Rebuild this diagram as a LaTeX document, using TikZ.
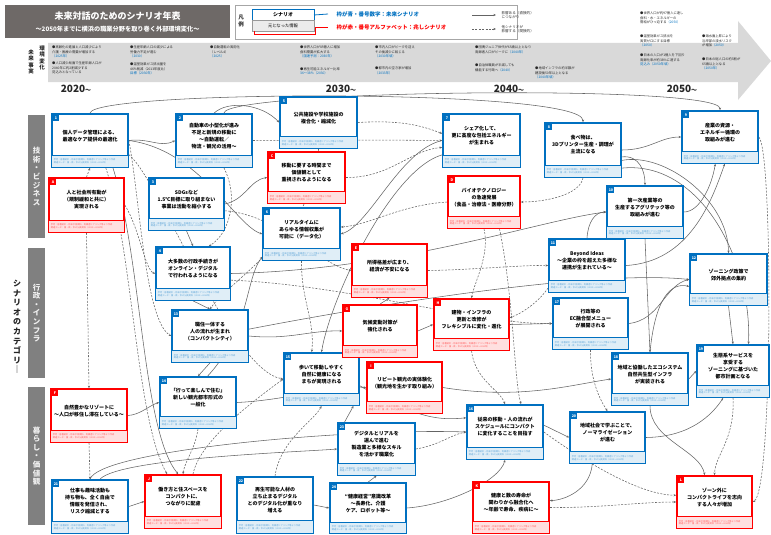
\documentclass[tikz,border=0pt]{standalone}
\usepackage{fontspec}
\setmainfont{Noto Sans CJK JP}
\usetikzlibrary{fit,calc,arrows.meta}

\definecolor{scblue}{RGB}{0,112,192}
\definecolor{scred}{RGB}{255,0,0}
\definecolor{hdgray}{RGB}{110,105,103}
\definecolor{catgray}{RGB}{128,128,128}
\definecolor{bandgray}{RGB}{217,217,217}
\definecolor{linkgray}{RGB}{100,100,100}

\pgfdeclarelayer{back}
\pgfdeclarelayer{links}
\pgfsetlayers{back,links,main}

\newcommand\fs[2]{\fontsize{#1}{#2}\selectfont}

\tikzset{
  link/.style={draw=linkgray, line width=0.55pt, -{Stealth[length=2.6pt,width=2.2pt]}},
  dlink/.style={link, dash pattern=on 2pt off 1.4pt},
  frame/.style={inner sep=0pt, fill=white, line width=1.7pt},
  tagbox/.style={inner sep=0pt, minimum width=5.5pt, minimum height=5.5pt, text=white, font=\fs{3.6}{4}\bfseries},
  boxtext/.style={align=center, font=\fs{5}{7}\bfseries, text=black},
  notetext/.style={align=left, font=\fs{2.2}{2.9}, anchor=west, inner sep=0pt},
  bullet/.style={anchor=north west, align=left, font=\fs{3.3}{4.3}, inner sep=0pt, text=black!85},
  year/.style={font=\fs{10}{10}\bfseries, text=black!85, inner sep=0pt},
  catbar/.style={fill=catgray, draw=none},
  cattext/.style={align=center, font=\fs{7.5}{8.6}\bfseries, text=white!88!gray, inner sep=0pt},
}

% scenario card: name, x1, y1, x2, y2, colour, tag, title
\newcommand\scbox[8]{%
  \node[frame, draw=#6, fit={(#2,#3) (#4,#5)}] (#1) {};
  \fill[#6!12] ($(#1.south west)+(0.9,-0.9)$) rectangle ($(#1.south east)!0.23!(#1.north east)+(-0.9,0)$);
  \draw[#6, line width=0.8pt] ($(#1.south west)!0.23!(#1.north west)$) -- ($(#1.south east)!0.23!(#1.north east)$);
  \node[tagbox, fill=#6] (#1-tag) at ($(#1.north west)+(4.8,4.8)$) {#7};
  \node[boxtext] (#1-txt) at ($(#1.north)!0.41!(#1.south)$) {#8};
  \node[notetext, text=#6!65] (#1-note) at ($(#1.south west)!0.115!(#1.north west)+(2.5,0)$)
    {参考：各種統計・将来予測資料、有識者ヒアリング等より作成\\関連データ：国・県・市の公表資料（2019〜2021年）};
}

\begin{document}
\begin{tikzpicture}[x=1pt,y=-1pt]
\useasboundingbox (0,0) rectangle (771,535);

% ---------- header ----------
\node[fill=hdgray, draw=none, fit={(5,5) (230,38)}, inner sep=0pt] (title) {};
\node[text=white, font=\fs{9}{10}\bfseries] (title-main) at (117.5,16) {未来対話のためのシナリオ年表};
\node[text=white, font=\fs{6.2}{7}\bfseries] (title-sub) at (117.5,29) {〜2050年までに横浜の職業分野を取り巻く外部環境変化〜};

% legend
\node[draw=gray!70, line width=0.8pt, fit={(235,5) (517,39)}, inner sep=0pt] (legend) {};
\node[align=center, font=\fs{5.5}{6.5}\bfseries, text=black!80] (lg-head) at (241,21) {凡\\例};
\node[draw=scblue, line width=0.8pt, fit={(252,9) (314,20)}, inner sep=0pt] (lg-sc) {};
\node[font=\fs{5}{6}\bfseries] (lg-sc-t) at (lg-sc) {シナリオ};
\node[draw=gray!80, fill=gray!15, line width=0.6pt, fit={(252,20) (314,31)}, inner sep=0pt] (lg-src) {};
\node[font=\fs{4.3}{5}] (lg-src-t) at (lg-src) {元となった情報};
\draw[scred, line width=0.8pt] (254,31) -- (254,34) -- (315,34) -- (315,27) -- (328,27);
\draw[scblue, line width=0.8pt] (314,15) -- (328,14);
\node[anchor=west, text=scblue, font=\fs{5.5}{6}\bfseries] (lg-blue) at (333,14) {枠が青・番号数字：未来シナリオ};
\node[anchor=west, text=scred, font=\fs{5.5}{6}\bfseries] (lg-red) at (333,27) {枠が赤・番号アルファベット：兆しシナリオ};
\coordinate (lg-a1) at (472,15);
\coordinate (lg-a2) at (496,15);
\coordinate (lg-b1) at (472,29);
\coordinate (lg-b2) at (496,29);
\draw[link] (lg-a1) -- (lg-a2);
\draw[dlink] (lg-b1) -- (lg-b2);
\node[anchor=west, align=left, font=\fs{3.6}{4.6}, text=black!80] (lg-at) at (498,15) {影響ある（直接的）\\につながり};
\node[anchor=west, align=left, font=\fs{3.6}{4.6}, text=black!80] (lg-bt) at (498,29) {他シナリオが\\影響する（間接的）};

% timeline band
\begin{pgfonlayer}{back}
  \fill[bandgray] (48,43) -- (738,43) -- (738,21) -- (771,61) -- (738,100) -- (738,82) -- (48,82) -- cycle;
\end{pgfonlayer}
\node[align=center, font=\fs{5.5}{6.3}\bfseries, text=black!85] (env-a) at (42,58) {環\\境\\変\\化};
\node[align=center, font=\fs{5.5}{6.3}\bfseries, text=black!85] (env-b) at (31,62) {未\\来\\事\\実};

\node[bullet] (hb1) at (52,46) {●高齢化の進展と人口減少により\\介護・医療の需要が増加する\\\textcolor{scblue}{（2025年）}};
\node[bullet] (hb2) at (52,62) {●人口減少局面で生産年齢人口が\\2040年に約2割減少する\\見込みとなっている};
\node[bullet] (hb3) at (130,46) {●生産年齢人口の減少による\\労働力不足が進む\\\textcolor{scblue}{（2030）}};
\node[bullet] (hb4) at (130,63) {●温室効果ガス排出量を\\46\%削減（2013年度比）\\\textcolor{scblue}{目標（2030年）}};
\node[bullet] (hb5) at (210,46) {●自動運転の実用化\\（レベル4）\\\textcolor{scblue}{（2025）}};
\node[bullet] (hb6) at (300,46) {●世界人口が85億人に増加\\食料需要が拡大する\\\textcolor{scblue}{（国連予測：2030年）}};
\node[bullet] (hb7) at (300,67) {●再生可能エネルギー比率\\\textcolor{scblue}{36〜38\%（2030）}};
\node[bullet] (hb8) at (375,46) {●市内人口がピークを迎え\\その後減少に転じる\\\textcolor{scblue}{（2030年頃）}};
\node[bullet] (hb9) at (375,67) {●都市内の空き家が増加\\\textcolor{scblue}{（2033年）}};
\node[bullet] (hb10) at (475,46) {●団塊ジュニア世代が65歳以上となり\\高齢者人口がピークに\textcolor{scblue}{（2040年）}};
\node[bullet] (hb11) at (475,64) {●自治体職員が半減しても\\機能する行政へ\textcolor{scblue}{（2040）}};
\node[bullet] (hb12) at (535,67) {●地域インフラの約半数が\\建設後50年以上となる\\\textcolor{scblue}{（2040年頃）}};
\node[bullet] (hb13) at (640,12) {●世界人口が約97億人に達し\\食料・水・エネルギーの\\需給がひっ迫する\textcolor{scblue}{（2050）}};
\node[bullet] (hb14) at (640,35) {●温室効果ガス排出を\\実質ゼロにする目標\\\textcolor{scblue}{（2050）}};
\node[bullet] (hb15) at (640,54) {●日本の人口が1億人を下回り\\高齢化率が約38\%に達する\\\textcolor{scblue}{見込み（2050年頃）}};
\node[bullet] (hb16) at (702,35) {●海水面上昇により\\沿岸部の浸水リスク\\が増加\textcolor{scblue}{（2050）}};
\node[bullet] (hb17) at (702,58) {●日本の総人口の約3割が\\65歳以上となる\\\textcolor{scblue}{（2050年）}};

\node[year] (y2020) at (76,89) {2020\fs{6}{6}〜};
\node[year] (y2030) at (341,89) {2030\fs{6}{6}〜};
\node[year] (y2040) at (509,89) {2040\fs{6}{6}〜};
\node[year] (y2050) at (682,89) {2050\fs{6}{6}〜};

% ---------- category bars ----------
\node[catbar, fit={(28,115) (45,238)}, inner sep=0pt] (cat1) {};
\node[cattext] (cat1-t) at (cat1) {技\\術\\・\\ビ\\ジ\\ネ\\ス};
\node[catbar, fit={(28,248) (45,378)}, inner sep=0pt] (cat2) {};
\node[cattext] (cat2-t) at (cat2) {行\\政\\・\\イ\\ン\\フ\\ラ};
\node[catbar, fit={(28,387) (45,525)}, inner sep=0pt] (cat3) {};
\node[cattext] (cat3-t) at (cat3) {暮\\ら\\し\\・\\価\\値\\観};
\node[align=center, font=\fs{8}{9.6}\bfseries, text=black!85, inner sep=0pt] (cat-head) at (17,327) {シ\\ナ\\リ\\オ\\の\\カ\\テ\\ゴ\\リ\\｜};

% ---------- scenario cards ----------
\scbox{b1}{52}{114}{128}{167}{scblue}{1}{個人データ管理による、\\最適なケア提供の最適化}
\scbox{b2}{176}{114}{252}{167}{scblue}{2}{自動車の小型化が進み\\不足と新規の移動に\\〜自動運転／\\物流・観光の活用〜}
\scbox{b3}{149}{178}{224}{230}{scblue}{3}{SDGsなど\\1.5℃目標に取り組まない\\事業は活動を縮小する}
\scbox{b4}{156}{247}{230}{300}{scblue}{4}{大多数の行政手続きが\\オンライン・デジタル\\で行われるようになる}
\scbox{b5}{280}{97}{357}{148}{scblue}{5}{公共施設や学校施設の\\複合化・縮減化}
\scbox{b6}{263}{208}{340}{260}{scblue}{6}{リアルタイムに\\あらゆる情報収集が\\可能に（データ化）}
\scbox{b7}{443}{114}{520}{167}{scblue}{7}{シェア化して、\\更に高度な包括エネルギー\\が生まれる}
\scbox{b8}{545}{123}{621}{177}{scblue}{8}{食べ物は、\\3Dプリンター生産・調理が\\主流になる}
\scbox{b9}{682}{111}{758}{163}{scblue}{9}{産業の資源・\\エネルギー循環の\\取組みが進む}
\scbox{b10}{607}{186}{683}{238}{scblue}{10}{第一次産業等の\\生産するアグリテック等の\\取組みが進む}
\scbox{b11}{549}{239}{625}{292}{scblue}{11}{Beyond Ideas\\〜企業の枠を超えた多様な\\連携が生まれている〜}
\scbox{b12}{690}{254}{767}{305}{scblue}{12}{ゾーニング政策で\\郊外拠点の集約}
\scbox{b13}{172}{310}{248}{362}{scblue}{13}{職住一体する\\人の流れが生まれ\\（コンパクトシティ）}
\scbox{b14}{160}{377}{236}{428}{scblue}{14}{「行って楽しんで住む」\\新しい観光都市形式の\\一般化}
\scbox{b15}{284}{353}{359}{405}{scblue}{15}{歩いて移動しやすく\\自然に健康になる\\まちが実現される}
\scbox{b16}{467}{405}{543}{459}{scblue}{16}{従来の移動・人の流れが\\スケジュールにコンパクト\\に変化することを目指す}
\scbox{b17}{553}{298}{628}{349}{scblue}{17}{行政等の\\EC融合型メニュー\\が展開される}
\scbox{b18}{612}{353}{688}{405}{scblue}{18}{地域と協働したエコシステム\\自然共生型インフラ\\が実装される}
\scbox{b19}{697}{345}{769}{397}{scblue}{19}{生態系サービスを\\享受する\\ゾーニングに基づいた\\都市計画となる}
\scbox{b20}{570}{412}{645}{463}{scblue}{20}{地域社会で学ぶことで、\\ノーマライゼーション\\が進む}
\scbox{b21}{52}{480}{128}{533}{scblue}{21}{仕事も趣味活動も\\持ち物も、全く自由で\\情報を発信され、\\リスク縮減とする}
\scbox{b22}{237}{477}{313}{533}{scblue}{22}{再生可能な人材の\\立ち止まるデジタル\\とのデジタル化が重なり\\増える}
\scbox{b23}{338}{423}{415}{475}{scblue}{23}{デジタルとリアルを\\選んで進む\\製造業と多様なスキル\\を活かす職業化}
\scbox{b24}{330}{483}{406}{533}{scblue}{24}{“健康経営”意識改革\\〜長寿化、介護\\ケア、ロボット等〜}

\scbox{rA}{49}{178}{124}{232}{scred}{A}{人と社会所有動が\\（規制緩和と共に）\\実現される}
\scbox{rC}{268}{152}{345}{203}{scred}{C}{移動に要する時間まで\\価値観として\\重視されるようになる}
\scbox{rD}{448}{176}{520}{228}{scred}{D}{バイオテクノロジー\\の急速発展\\（食品・治療法・医療分野）}
\scbox{rE}{352}{244}{427}{297}{scred}{E}{所得格差が広まり、\\経済が不安になる}
\scbox{rF}{51}{389}{127}{442}{scred}{F}{自然豊かなリゾートに\\〜人口が移住し滞在している〜}
\scbox{rG}{343}{305}{417}{357}{scred}{G}{気候変動対策が\\強化される}
\scbox{rH}{434}{299}{509}{350}{scred}{H}{建物・インフラの\\更新と改修が\\フレキシブルに変化・進化}
\scbox{rI}{367}{362}{442}{413}{scred}{I}{リピート観光の実体験化\\（観光地を生かす取り組み）}
\scbox{rJ}{145}{475}{221}{528}{scred}{J}{働き方と住スペースを\\コンパクトに、\\つながりに配慮}
\scbox{rK}{473}{482}{549}{533}{scred}{K}{健康と数の寿命が\\関わりから融合化へ\\〜年齢で寿命、疾病に〜}
\scbox{rL}{677}{476}{752}{528}{scred}{L}{ゾーン外に\\コンパクトライフを志向\\する人々が増加}

% ---------- influence links ----------
\begin{pgfonlayer}{links}
  % long arcs over the top
  \draw[link] (b1.north) .. controls (92,90) and (583,88) .. (b8.north);
  \draw[link] (b2.70) .. controls (225,90) and (720,84) .. (b9.north);
  \draw[link] (b2.north) .. controls (228,100) and (262,104) .. (b5.west);
  % technology column
  \draw[link] (b1.east) .. controls (150,138) and (160,148) .. (b2.west);
  \draw[link] (b1.east) .. controls (200,150) and (235,225) .. (b6.west);
  \draw[dlink] (b1.east) .. controls (140,200) and (145,320) .. (b13.west);
  \draw[dlink] (b1.-20) .. controls (160,180) and (230,370) .. (b15.west);
  \draw[dlink] (b1.-60) .. controls (133,250) and (136,420) .. (rJ.120);
  \draw[link] (b1.-50) .. controls (142,260) and (142,430) .. (rJ.100);
  \draw[dlink] (rA.north) -- (b1.south);
  \draw[dlink] (rA.south) -- (rF.north);
  \draw[dlink] (rF.south) -- (b21.north);
  \draw[dlink] (rA.east) .. controls (140,230) and (145,270) .. (b4.west);
  \draw[link] (rF.east) .. controls (140,415) and (150,405) .. (b14.west);
  \draw[link] (b21.east) -- (rJ.west);
  \draw[dlink] (b2.east) .. controls (300,140) and (400,140) .. (b7.west);
  \draw[dlink] (b2.-70) .. controls (240,200) and (228,235) .. (b4.60);
  \draw[link] (b3.south) -- (b4.north);
  \draw[link] (b3.east) .. controls (245,200) and (250,180) .. (rC.west);
  \draw[dlink] (b3.-10) .. controls (280,215) and (320,265) .. (rE.west);
  \draw[link] (b4.east) .. controls (400,270) and (540,220) .. (b10.west);
  \draw[dlink] (b4.-10) .. controls (350,285) and (480,325) .. (b17.west);
  \draw[link] (b4.south) -- (b13.north);
  \draw[link] (b13.south) -- (b14.north);
  \draw[link] (b13.east) .. controls (290,340) and (310,330) .. (rG.west);
  \draw[link] (b13.10) .. controls (400,300) and (600,270) .. (b12.west);
  \draw[link] (b14.70) .. controls (250,330) and (245,280) .. (b6.-150);
  \draw[link] (b14.east) .. controls (290,400) and (330,385) .. (rI.west);
  \draw[dlink] (b14.south) .. controls (195,450) and (185,460) .. (rJ.north);
  \draw[link] (b21.north) .. controls (100,450) and (350,428) .. (b16.west);
  \draw[link] (b21.70) .. controls (120,458) and (300,452) .. (b23.west);
  \draw[dlink] (rJ.70) .. controls (200,440) and (255,400) .. (b15.west);
  \draw[dlink] (b22.north) .. controls (280,440) and (315,420) .. (b15.south);
  \draw[link] (b22.east) -- (b24.west);
  \draw[link] (b24.north) -- (b23.south);
  \draw[link] (b24.east) .. controls (450,505) and (500,480) .. (b16.south);
  \draw[dlink] (b23.east) .. controls (440,445) and (450,435) .. (b16.west);
  \draw[link] (b23.140) -- (b15.-40);
  \draw[link] (b15.-10) .. controls (420,420) and (440,420) .. (b16.160);
  % middle cluster
  \draw[link] (rG.east) -- (rH.west);
  \draw[link] (rG.north) -- (rE.south);
  \draw[dlink] (rE.east) .. controls (470,270) and (520,265) .. (b11.west);
  \draw[dlink] (rH.south) .. controls (475,380) and (500,390) .. (b16.north);
  \draw[link] (rI.east) .. controls (520,400) and (570,385) .. (b18.west);
  \draw[link] (rH.east) -- (b17.west);
  \draw[dlink] (b11.-150) .. controls (540,300) and (525,312) .. (rH.10);
  \draw[link] (b7.west) .. controls (400,150) and (370,225) .. (b6.east);
  \draw[link] (b7.-160) .. controls (390,170) and (330,300) .. (b15.north);
  \draw[dlink] (rD.west) .. controls (400,205) and (370,225) .. (b6.10);
  \draw[dlink] (rD.south) .. controls (490,255) and (475,280) .. (rH.north);
  \draw[dlink] (rD.-60) .. controls (514,300) and (514,380) .. (b16.60);
  \draw[dlink] (b5.south) .. controls (318,230) and (230,280) .. (b13.north);
  \draw[dlink] (rC.east) .. controls (390,178) and (410,150) .. (b7.-170);
  \draw[dlink] (b6.south) .. controls (301,300) and (315,320) .. (b15.110);
  \draw[dlink] (b5.east) .. controls (400,120) and (420,125) .. (b7.170);
  % right-hand cluster
  \draw[dlink] (b8.south) .. controls (580,195) and (545,202) .. (rD.east);
  \draw[link] (b8.east) .. controls (650,150) and (660,137) .. (b9.west);
  \draw[link] (b8.-10) .. controls (640,155) and (645,172) .. (b10.north);
  \draw[link] (b8.-15) .. controls (665,152) and (728,200) .. (b12.north);
  \draw[link] (b8.-25) .. controls (700,160) and (752,260) .. (b19.60);
  \draw[link] (b10.east) .. controls (700,212) and (712,185) .. (b9.-100);
  \draw[link] (b11.north) .. controls (588,222) and (595,212) .. (b10.west);
  \draw[link] (b11.east) .. controls (690,262) and (712,200) .. (b9.-80);
  \draw[link] (b10.south) -- (b18.north);
  \draw[link] (b12.south) -- (b19.north);
  \draw[link] (b17.east) .. controls (660,320) and (665,285) .. (b12.west);
  \draw[link] (b18.north) .. controls (655,300) and (670,282) .. (b12.-170);
  \draw[link] (b18.east) -- (b19.west);
  \draw[dlink] (b17.south) .. controls (590,380) and (600,400) .. (b20.north);
  \draw[link] (b18.south) .. controls (650,440) and (700,450) .. (rL.110);
  \draw[dlink] (b19.south) .. controls (735,440) and (715,455) .. (rL.north);
  \draw[dlink] (b9.east) .. controls (773,150) and (773,490) .. (rL.east);
  \draw[dlink] (rK.east) .. controls (600,508) and (640,502) .. (rL.west);
  \draw[dlink] (b16.east) .. controls (585,462) and (640,495) .. (rL.170);
  \draw[link] (b16.10) -- (b20.west);
  \draw[link] (b20.east) .. controls (690,437) and (712,415) .. (b19.-110);
  \draw[link] (b20.-120) .. controls (590,490) and (565,500) .. (rK.10);
\end{pgfonlayer}
\end{tikzpicture}
\end{document}
